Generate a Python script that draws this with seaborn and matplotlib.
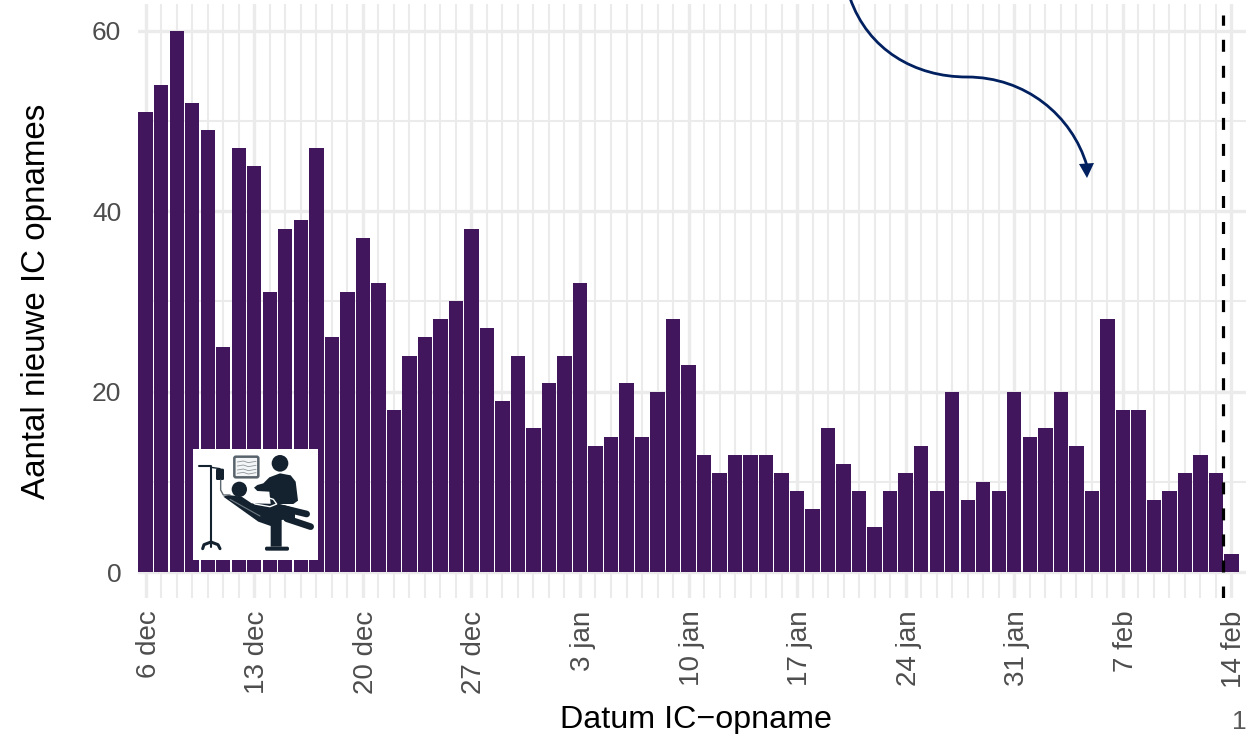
# Nieuwe IC opnames per dag
import matplotlib
matplotlib.use("Agg")
import matplotlib.pyplot as plt
import numpy as np
import pandas as pd
import seaborn as sns
from matplotlib.patches import Circle, FancyBboxPatch, PathPatch, Polygon, Rectangle
from matplotlib.path import Path
from matplotlib.transforms import ScaledTranslation

opnames = [51, 54, 60, 52, 49, 25, 47, 45, 31, 38, 39, 47, 26, 31, 37, 32, 18, 24,
           26, 28, 30, 38, 27, 19, 24, 16, 21, 24, 32, 14, 15, 21, 15, 20, 28, 23,
           13, 11, 13, 13, 13, 11, 9, 7, 16, 12, 9, 5, 9, 11, 14, 9, 20, 8, 10, 9,
           20, 15, 16, 20, 14, 9, 28, 18, 18, 8, 9, 11, 13, 11, 2]
dagen = list(range(len(opnames)))
tick_dagen = list(range(0, 71, 7))
tick_labels = ["6 dec", "13 dec", "20 dec", "27 dec", "3 jan", "10 jan",
               "17 jan", "24 jan", "31 jan", "7 feb", "14 feb"]
y_ticks = [0, 20, 40, 60]
y_minor = [10, 30, 50]

W, H = 1246, 734
PAARS = "#41165c"
NAVY = "#002060"
ICON = "#14222f"


def draw_icon(fig):
    # same coordinates as a 150x130 px crop scaled 3x
    ax = fig.add_axes([180 / W, 1 - 570 / H, 150 / W, 130 / H], zorder=5)
    ax.set_xlim(0, 450)
    ax.set_ylim(390, 0)
    ax.axis("off")
    ax.patch.set_alpha(0)
    ax.add_patch(Rectangle((40, 27), 374, 333, color="white", lw=0))
    # infuus
    ax.plot([58, 93, 93], [78, 78, 320], color=ICON, lw=1.5)
    ax.add_patch(FancyBboxPatch((108, 86), 24, 34, boxstyle="round,pad=0,rounding_size=4", color=ICON, lw=0))
    ax.plot([93, 120], [82, 86], color=ICON, lw=1)
    ax.plot([122, 122, 130, 150], [120, 150, 165, 165], color="#5c6770", lw=1)
    ax.plot([68, 72, 93, 114, 120], [326, 314, 306, 314, 326], color=ICON, lw=2.2, solid_capstyle="round")
    # monitor
    ax.add_patch(FancyBboxPatch((163, 50), 72, 62, boxstyle="round,pad=0,rounding_size=5",
                                fc="#f4f5f6", ec="#59636b", lw=1.8))
    for y0 in [66, 78, 90, 100]:
        ax.plot([172, 190, 205, 228], [y0, y0 - 3, y0 + 2, y0 - 2], color="#8d959b", lw=0.6)
    # verpleegkundige
    ax.add_patch(Circle((300, 70), 25, color=ICON, lw=0))
    ax.add_patch(Polygon([(268, 112), (300, 100), (332, 106), (347, 125), (354, 182), (340, 192),
                          (272, 192), (268, 155), (232, 153), (222, 143), (232, 135), (250, 130)],
                         color=ICON, lw=0))
    # patient en stoel
    ax.add_patch(Circle((178, 148), 23, color=ICON, lw=0))
    ax.add_patch(Polygon([(130, 170), (145, 165), (185, 170), (215, 190), (300, 192), (345, 205),
                          (345, 235), (305, 240), (305, 320), (272, 320), (272, 258),
                          (235, 245)], color=ICON, lw=0))
    ax.plot([310, 380], [205, 222], color=ICON, lw=4.8, solid_capstyle="round")
    ax.plot([320, 392], [236, 260], color=ICON, lw=4.8, solid_capstyle="round")
    ax.plot([200, 222, 280, 290, 270, 225, 200], [170, 160, 178, 192, 200, 192, 170], color="white", lw=1.0)
    ax.plot([150, 240], [178, 228], color="#6f7a82", lw=0.8)
    ax.add_patch(FancyBboxPatch((255, 320), 72, 12, boxstyle="round,pad=0,rounding_size=5",
                                color=ICON, lw=0))


def draw_overlay(fig):
    # pijl en paginanummer
    ax = fig.add_axes([0, 0, 1, 1], zorder=6)
    ax.set_xlim(0, W)
    ax.set_ylim(H, 0)
    ax.axis("off")
    ax.patch.set_alpha(0)
    verts = [(850, -2), (868, 50), (915, 77), (967, 77),
             (1025, 77), (1072, 115), (1087, 166)]
    codes = [Path.MOVETO] + [Path.CURVE4] * 6
    ax.add_patch(PathPatch(Path(verts, codes), fc="none", ec=NAVY, lw=2.0, clip_on=False))
    ax.add_patch(Polygon([(1079, 164), (1094, 163), (1087, 178)], color=NAVY, lw=0))
    ax.text(1239, 722, "1", color="#595959", fontsize=19, ha="center", va="center")


def main():
    sns.set_theme(style="white")
    plt.rcParams["font.family"] = ["Liberation Sans", "DejaVu Sans"]
    df = pd.DataFrame({"dag": dagen, "opnames": opnames})

    fig = plt.figure(figsize=(W / 100, H / 100), dpi=100)
    ax = fig.add_axes([138 / W, 1 - 598 / H, (W - 138) / W, 594 / H])
    sns.barplot(data=df, x="dag", y="opnames", color=PAARS, saturation=1,
                width=0.93, linewidth=0, ax=ax, zorder=3)

    ax.set_xlim(-0.496, 70.94)
    ax.set_ylim(-2.88, 62.97)
    ax.set_xticks(tick_dagen)
    ax.set_xticklabels(tick_labels, rotation=90, ha="center", va="top", fontsize=20)
    ax.set_xticks([d for d in dagen if d not in tick_dagen], minor=True)
    ax.set_yticks(y_ticks)
    ax.set_yticks(y_minor, minor=True)
    ax.tick_params(axis="both", which="both", length=0, labelcolor="#4d4d4d")
    ax.tick_params(axis="y", labelsize=19, pad=12)
    ax.tick_params(axis="x", pad=9)
    # labels staan iets rechts van de gridlijn
    shift = ScaledTranslation(3 / 100, 0, fig.dpi_scale_trans)
    for lab in ax.get_xticklabels():
        lab.set_transform(lab.get_transform() + shift)

    ax.set_axisbelow(True)
    ax.grid(True, which="major", color="#ebebeb", lw=2.4)
    ax.grid(True, which="minor", color="#ebebeb", lw=1.5)
    for spine in ax.spines.values():
        spine.set_visible(False)

    ax.axvline(69.44, ymin=0, ymax=(598 - 15) / 594, color="black", lw=2.3,
               dashes=(3.75, 4.4), zorder=4)

    ax.set_xlabel("Datum IC\u2212opname", fontsize=23.2, color="black", va="center")
    ax.xaxis.set_label_coords((696 - 138) / (W - 138), -(720 - 598) / 594)
    ax.set_ylabel("Aantal nieuwe IC opnames", fontsize=23.9, color="black", va="center")
    ax.yaxis.set_label_coords(-(138 - 37) / (W - 138), (598 - 301) / 594)

    draw_icon(fig)
    draw_overlay(fig)
    fig.savefig("out.png", dpi=100)


if __name__ == "__main__":
    main()
